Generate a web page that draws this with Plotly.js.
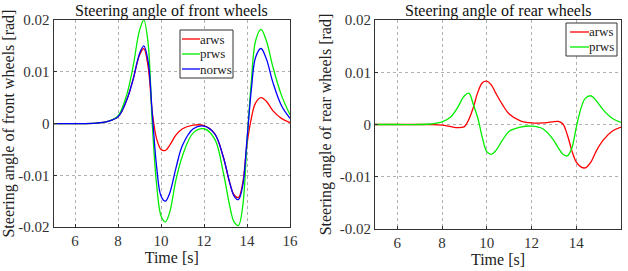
<!DOCTYPE html>
<html><head><meta charset="utf-8">
<script src="https://cdn.plot.ly/plotly-3.0.1.min.js"></script>
<style>body{margin:0;background:#fff}#c{width:628px;height:271px}</style>
</head><body><div id="c"></div>
<script>
const time = [5, 6, 7, 7.5, 8, 8.4, 8.7, 9.0, 9.2, 9.4, 9.6, 9.8, 10.0, 10.2, 10.4, 10.7, 11.0, 11.5, 12.0, 12.5, 12.9, 13.2, 13.4, 13.6, 13.8, 14.0, 14.2, 14.4, 14.65, 14.9, 15.2, 15.6, 16];

const frontArws = [0, 0, 0.0001, 0.0004, 0.0013, 0.0045, 0.0085, 0.0132, 0.0145, 0.0110, 0.0020, -0.0030, -0.0050, -0.0052, -0.0042, -0.0022, -0.0010, -0.0003, -0.0004, -0.0020, -0.0065, -0.0115, -0.0138, -0.0143, -0.0115, -0.0040, 0.0010, 0.0040, 0.0050, 0.0043, 0.0025, 0.0010, 0.0002];
const frontPrws = [0, 0, 0.0001, 0.0004, 0.0015, 0.0055, 0.0110, 0.0180, 0.0200, 0.0155, -0.0005, -0.0120, -0.0178, -0.0190, -0.0172, -0.0108, -0.0062, -0.0018, -0.0010, -0.0030, -0.0095, -0.0160, -0.0190, -0.0197, -0.0160, -0.0035, 0.0080, 0.0160, 0.0182, 0.0160, 0.0110, 0.0055, 0.0017];
const frontNorws = [0, 0, 0.0001, 0.0004, 0.0013, 0.0045, 0.0085, 0.0135, 0.0150, 0.0120, 0.0015, -0.0085, -0.0140, -0.0150, -0.0135, -0.0085, -0.0042, -0.0010, -0.0005, -0.0020, -0.0065, -0.0115, -0.0140, -0.0147, -0.0120, -0.0030, 0.0065, 0.0128, 0.0145, 0.0125, 0.0080, 0.0035, 0.0010];

const rearArws = [0, 0, 0, 0, -0.0001, -0.0004, -0.0006, -0.0004, 0.0010, 0.0033, 0.0062, 0.0080, 0.0083, 0.0076, 0.0060, 0.0038, 0.0020, 0.0007, 0.0003, 0.0003, 0.0005, 0.0006, 0.0001, -0.0020, -0.0050, -0.0072, -0.0081, -0.0083, -0.0072, -0.0050, -0.0030, -0.0013, -0.0005];
const rearPrws = [0, 0, 0, 0.0001, 0.0005, 0.0015, 0.0033, 0.0055, 0.0060, 0.0038, 0.0012, -0.0025, -0.0052, -0.0057, -0.0050, -0.0030, -0.0013, -0.0005, -0.0003, -0.0008, -0.0025, -0.0045, -0.0057, -0.0060, -0.0045, -0.0005, 0.0030, 0.0050, 0.0055, 0.0045, 0.0028, 0.0012, 0.0004];

const frontNames = ['arws', 'prws', 'norws'];
const rearNames = ['arws', 'prws'];

const xTicks = [6, 8, 10, 12, 14, 16];
const yTicks = [-0.02, -0.01, 0, 0.01, 0.02];
const yTickText = ['-0.02', '-0.01', '0', '0.01', '0.02'];

const RED = '#ff0000', GREEN = '#00ee00', BLUE = '#0000ff';
const FONT = 'Liberation Serif';
const W = 628, H = 271;

function tr(y, name, color, xa, ya) {
  return {x: time, y: y, name: name, type: 'scatter', mode: 'lines',
    line: {color: color, width: 1.3, shape: 'spline', smoothing: 1},
    xaxis: xa, yaxis: ya, showlegend: false};
}
const frontColors = [RED, GREEN, BLUE];
const rearColors = [RED, GREEN];
const data = [
  tr(frontArws, frontNames[0], RED, 'x', 'y'),
  tr(frontPrws, frontNames[1], GREEN, 'x', 'y'),
  tr(frontNorws, frontNames[2], BLUE, 'x', 'y'),
  tr(rearArws, rearNames[0], RED, 'x2', 'y2'),
  tr(rearPrws, rearNames[1], GREEN, 'x2', 'y2')
];

function xax(domain, anchor) {
  return {domain: domain, anchor: anchor, range: [5, 16], tickvals: xTicks,
    showgrid: true, gridcolor: '#b0b0b0', griddash: 'dot', gridwidth: 1,
    zeroline: false, showline: true, mirror: true, linecolor: '#333', linewidth: 1,
    ticks: 'inside', ticklen: 3, tickcolor: '#333',
    tickfont: {family: FONT, size: 15, color: '#333'},
    title: {text: 'Time [s]', font: {family: FONT, size: 16, color: '#222'}, standoff: 2}};
}
function yax(domain, anchor, title) {
  return {domain: domain, anchor: anchor, range: [-0.02, 0.02], tickvals: yTicks, ticktext: yTickText,
    showgrid: true, gridcolor: '#b0b0b0', griddash: 'dot', gridwidth: 1,
    zeroline: false, showline: true, mirror: true, linecolor: '#333', linewidth: 1,
    ticks: 'inside', ticklen: 3, tickcolor: '#333',
    tickfont: {family: FONT, size: 15, color: '#333'},
    title: {text: title, font: {family: FONT, size: 16, color: '#222'}, standoff: 4}};
}

function px(x) { return x / W; }
function py(y) { return 1 - y / H; }
function legendParts(box, rows, lineX0, lineX1, textX, names, colors) {
  const shapes = [{type: 'rect', xref: 'paper', yref: 'paper', layer: 'above',
    x0: px(box[0]), x1: px(box[1]), y0: py(box[2]), y1: py(box[3]),
    line: {color: '#333', width: 1}, fillcolor: '#fff'}];
  const anns = [];
  names.forEach((n, i) => {
    shapes.push({type: 'line', xref: 'paper', yref: 'paper', layer: 'above',
      x0: px(lineX0), x1: px(lineX1), y0: py(rows[i]), y1: py(rows[i]),
      line: {color: colors[i], width: 1.3}});
    anns.push({text: n, xref: 'paper', yref: 'paper', x: px(textX), y: py(rows[i]),
      xanchor: 'left', yanchor: 'middle', showarrow: false, borderpad: 0,
      font: {family: FONT, size: 13, color: '#222'}});
  });
  return {shapes, anns};
}
const legF = legendParts([180, 233, 30, 78], [39, 54, 69], 182, 200, 199, frontNames, frontColors);
const legR = legendParts([566, 617, 23, 56], [32, 47], 570, 589, 588, rearNames, rearColors);

const layout = {
  width: W, height: H, margin: {l: 0, r: 0, t: 0, b: 0},
  paper_bgcolor: '#fff', plot_bgcolor: '#fff', showlegend: false,
  xaxis: xax([0.0852, 0.4618], 'y'),
  yaxis: yax([0.162, 0.926], 'x', 'Steering angle of front wheels [rad]'),
  xaxis2: xax([0.597, 0.989], 'y2'),
  yaxis2: yax([0.155, 0.926], 'x2', 'Steering angle of rear wheels [rad]'),
  shapes: legF.shapes.concat(legR.shapes),
  annotations: [
    {text: 'Steering angle of front wheels', xref: 'paper', yref: 'paper', x: 0.2735, y: 1.0,
      xanchor: 'center', yanchor: 'top', showarrow: false, font: {family: FONT, size: 16, color: '#111'}},
    {text: 'Steering angle of rear wheels', xref: 'paper', yref: 'paper', x: 0.793, y: 1.0,
      xanchor: 'center', yanchor: 'top', showarrow: false, font: {family: FONT, size: 16, color: '#111'}}
  ].concat(legF.anns, legR.anns)
};
Plotly.newPlot('c', data, layout, {staticPlot: true, displayModeBar: false});
</script></body></html>
